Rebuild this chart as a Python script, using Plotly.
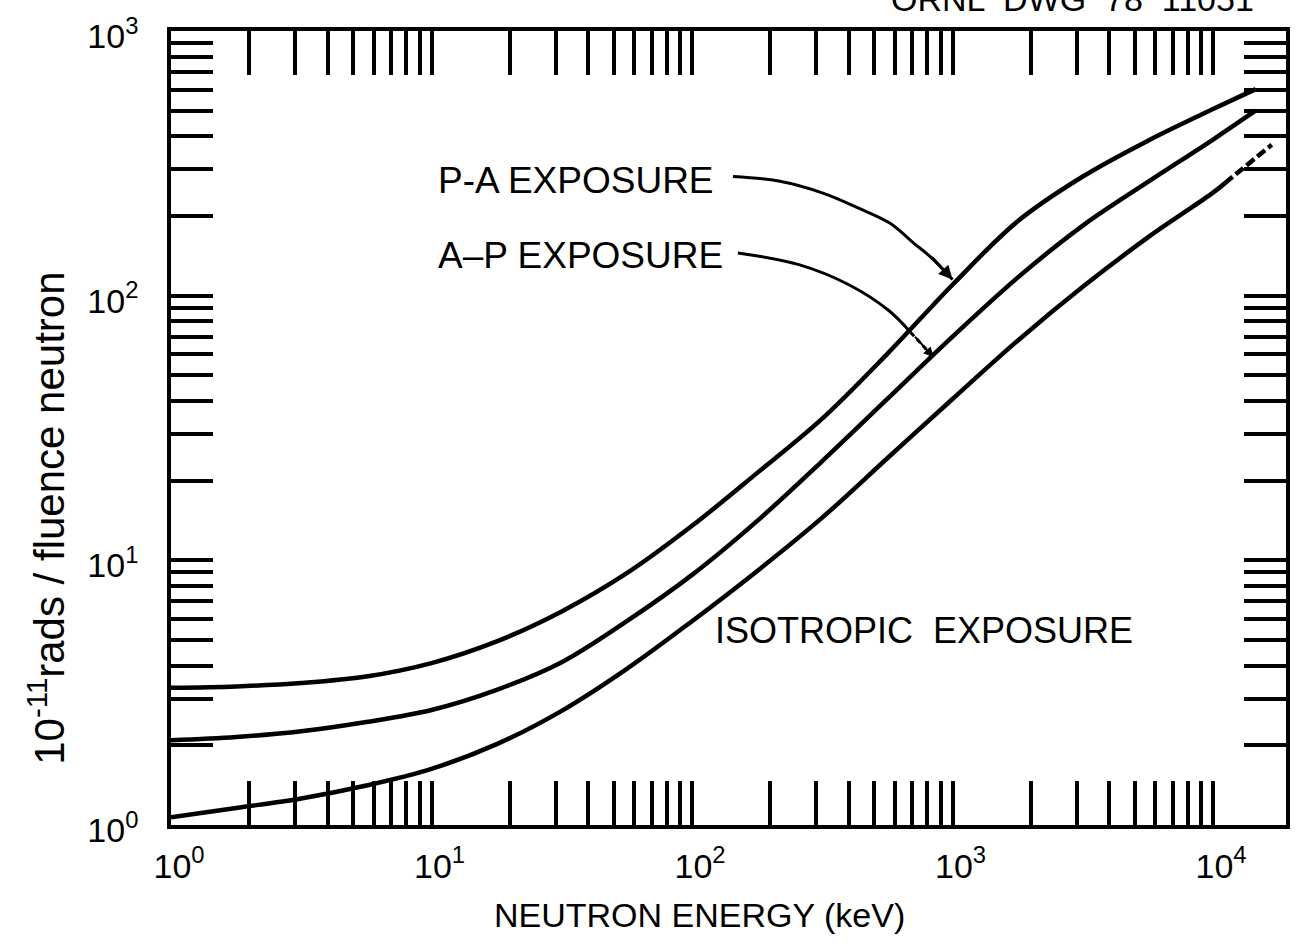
import plotly.graph_objects as go
import math

# ---- data ----
energy_kev = [1, 1.78, 3.16, 5.62, 10, 17.8, 31.6, 56.2, 100, 178, 316, 562, 1000, 1778, 3162, 5623, 10000, 14600]

pa_y = [3.30, 3.34, 3.44, 3.64, 4.09, 4.94, 6.41, 8.94, 13.5, 21.4, 34.3, 60.3, 110, 191, 282, 385, 507, 603]
ap_y = [2.09, 2.15, 2.26, 2.45, 2.72, 3.24, 4.12, 5.89, 8.81, 14.1, 23.7, 40.7, 70.0, 117, 184, 269, 389, 501]

iso_x = [1, 1.78, 3.16, 5.62, 10, 17.8, 31.6, 56.2, 100, 178, 316, 562, 1000, 1778, 3162, 5623, 10000, 11100]
iso_y = [1.07, 1.16, 1.26, 1.41, 1.63, 2.02, 2.70, 3.89, 5.89, 9.12, 14.5, 24.3, 40.7, 67.6, 108, 166, 245, 266]
iso_end_x = [11100, 16800]
iso_end_y = [266, 372]

# leader lines from the labels to the curves
pa_arrow_x = [143.6, 215, 318, 436, 574, 709, 817, 1000]
pa_arrow_y = [282, 271, 244, 214, 188, 158, 141, 115]
ap_arrow_x = [150, 257, 400, 569, 691]
ap_arrow_y = [145, 131, 110, 87.9, 72.6]
ap_tip_x = [691, 846]
ap_tip_y = [72.6, 58.5]

x_decades = [0, 1, 2, 3, 4]
y_decades = [0, 1, 2, 3]
x_max = 19000

FONT = "Liberation Sans, Arial, sans-serif"

fig = go.Figure()
for ys in [pa_y, ap_y]:
    fig.add_trace(go.Scatter(x=energy_kev, y=ys, mode="lines",
                             line=dict(color="black", width=4.5, shape="spline", smoothing=1.0),
                             hoverinfo="skip"))
fig.add_trace(go.Scatter(x=iso_x, y=iso_y, mode="lines",
                         line=dict(color="black", width=4.5, shape="spline", smoothing=1.0),
                         hoverinfo="skip"))
fig.add_trace(go.Scatter(x=iso_end_x, y=iso_end_y, mode="lines",
                         line=dict(color="black", width=4.5, dash="10px,4px"), hoverinfo="skip"))
for xs, ys in [(pa_arrow_x, pa_arrow_y), (ap_arrow_x, ap_arrow_y)]:
    fig.add_trace(go.Scatter(x=xs, y=ys, mode="lines",
                             line=dict(color="black", width=3, shape="spline", smoothing=1.0),
                             hoverinfo="skip"))
fig.add_trace(go.Scatter(x=ap_tip_x, y=ap_tip_y, mode="lines",
                         line=dict(color="black", width=3, dash="5px,4px"), hoverinfo="skip"))

# arrowheads at the leader-line tips
fig.add_annotation(x=math.log10(pa_arrow_x[-1]), y=math.log10(pa_arrow_y[-1]), xref="x", yref="y",
                   ax=-22, ay=-24, showarrow=True, arrowhead=2, arrowsize=1.1, arrowwidth=2.5,
                   arrowcolor="black", text="")
fig.add_annotation(x=math.log10(ap_tip_x[-1]), y=math.log10(ap_tip_y[-1]), xref="x", yref="y",
                   ax=-20, ay=-22, showarrow=True, arrowhead=2, arrowsize=1.0, arrowwidth=2,
                   arrowcolor="black", text="")

xt_vals, xt_text = [], []
for k in x_decades:
    for d in range(1, 10):
        v = d * 10 ** k
        if v <= x_max:
            xt_vals.append(v)
            xt_text.append(f"10<sup>{k}</sup>" if d == 1 else "")
yt_vals, yt_text = [], []
for k in y_decades:
    for d in range(1, 10):
        v = d * 10 ** k
        if v <= 1000:
            yt_vals.append(v)
            yt_text.append(f"10<sup>{k}</sup>" if d == 1 else "")

axis_common = dict(type="log", showgrid=False, zeroline=False, ticks="inside",
                   tickwidth=3.5, tickcolor="black", showline=True, linewidth=3.5,
                   linecolor="black", mirror="ticks",
                   tickfont=dict(family=FONT, size=34, color="black"))
fig.update_xaxes(range=[0, 4.28], tickvals=xt_vals, ticktext=xt_text, ticklen=44,
                 ticklabelstandoff=8, ticklabelshift=8, **axis_common)
fig.update_yaxes(range=[0, 3], tickvals=yt_vals, ticktext=yt_text, ticklen=42,
                 ticklabelstandoff=22, ticklabelshift=5, **axis_common)

W, H = 1302, 944
L, R, T, B = 171, 14, 27, 119
pw, ph = W - L - R, H - T - B


def px(x):
    return (x - L) / pw


def py(y):
    return (H - B - y) / ph


ann = [
    dict(text="P-A EXPOSURE", x=px(436), y=py(177), xanchor="left", yanchor="middle", font_size=37),
    dict(text="A\u2013P EXPOSURE", x=px(436), y=py(253), xanchor="left", yanchor="middle", font_size=37),
    dict(text="ISOTROPIC  EXPOSURE", x=px(714), y=py(630), xanchor="left", yanchor="middle", font_size=36),
    dict(text="NEUTRON ENERGY (keV)", x=px(700), y=py(915), xanchor="center", yanchor="middle", font_size=34),
    dict(text="10<sup>-11</sup>rads / fluence neutron", x=px(46), y=py(517), xanchor="center",
         yanchor="middle", textangle=-90, font_size=42),
    dict(text="ORNL  DWG  78  11051", x=px(890), y=py(16), xanchor="left", yanchor="bottom", font_size=34),
]
for a in ann:
    fs = a.pop("font_size")
    fig.add_annotation(xref="paper", yref="paper", showarrow=False,
                       font=dict(family=FONT, size=fs, color="black"), **a)

fig.update_layout(width=W, height=H, margin=dict(l=L, r=R, t=T, b=B),
                  paper_bgcolor="white", plot_bgcolor="white", showlegend=False)

fig.write_html("out.html")
